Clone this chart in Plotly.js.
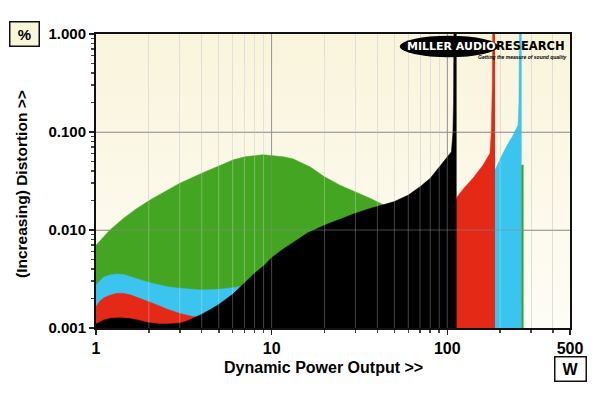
<!DOCTYPE html>
<html>
<head>
<meta charset="utf-8">
<script src="https://cdn.plot.ly/plotly-3.0.1.min.js"></script>
<style>html,body{margin:0;padding:0;background:#fff;}#chart{width:600px;height:393px;}</style>
</head>
<body>
<div id="chart"></div>
<script>
// ---- Data (power in W, distortion in %) ----
const green1ohmP = [1, 1.1, 1.2, 1.43, 1.7, 2.03, 2.5, 3, 4, 5.07, 6.05, 7.05, 8.95, 11.6, 13.2, 16.5, 20, 24.5, 30, 36.3, 43.5, 60, 80, 100, 120, 150, 190, 230, 266, 272];
const green1ohmD = [0.0070, 0.00855, 0.0100, 0.0131, 0.0165, 0.0202, 0.0250, 0.0300, 0.0379, 0.0459, 0.0520, 0.0559, 0.0587, 0.0559, 0.0532, 0.0443, 0.0349, 0.0287, 0.0246, 0.0211, 0.0180, 0.0160, 0.0160, 0.0165, 0.0175, 0.0195, 0.0260, 0.0340, 0.0460, 0.0460];

const cyan2ohmP = [1, 1.1, 1.2, 1.32, 1.45, 1.58, 1.8, 2, 2.55, 3, 4, 5, 6, 6.65, 8, 10, 15, 20, 30, 50, 80, 110, 140, 170, 186, 187.2, 189, 200, 217, 235, 253, 256, 258, 265];
const cyan2ohmD = [0.00275, 0.00330, 0.00348, 0.00355, 0.00350, 0.00334, 0.00310, 0.00292, 0.00264, 0.00254, 0.00244, 0.00248, 0.00258, 0.00265, 0.0029, 0.0032, 0.0037, 0.0042, 0.0052, 0.0070, 0.0100, 0.0140, 0.0190, 0.0260, 0.0300, 0.0420, 0.0425, 0.0530, 0.0709, 0.0900, 0.1180, 0.2000, 1.5, 1.5];

const red4ohmP = [1, 1.05, 1.11, 1.2, 1.32, 1.45, 1.58, 1.8, 2, 2.3, 2.55, 3, 3.6, 3.85, 5, 6, 8, 10, 15, 20, 30, 50, 80, 100, 112, 114, 125, 140, 160, 175, 178, 180.5, 181.5, 187];
const red4ohmD = [0.00165, 0.00188, 0.00203, 0.00216, 0.00226, 0.00225, 0.00217, 0.00200, 0.00185, 0.00168, 0.00155, 0.00141, 0.00130, 0.00130, 0.0014, 0.0015, 0.0018, 0.0022, 0.0030, 0.0040, 0.0060, 0.0090, 0.0130, 0.0170, 0.0200, 0.0219, 0.0270, 0.0337, 0.0460, 0.0607, 0.0980, 0.3000, 1.5, 1.5];

const black8ohmP = [1, 1.1, 1.21, 1.38, 1.55, 1.72, 2, 2.3, 2.55, 3, 3.3, 3.61, 4, 4.5, 5, 6, 7, 8, 9, 10, 11.5, 13.2, 16, 20, 25, 30, 36, 43.5, 50, 60, 70, 80, 90, 98, 105.6, 107.7, 108.6, 109.2, 113];
const black8ohmD = [0.00110, 0.00120, 0.00126, 0.00127, 0.00125, 0.00121, 0.00113, 0.00110, 0.00110, 0.00112, 0.00118, 0.00126, 0.00138, 0.00155, 0.00174, 0.00221, 0.00286, 0.00362, 0.00430, 0.0052, 0.0063, 0.0074, 0.0093, 0.0112, 0.0131, 0.0148, 0.0165, 0.0180, 0.0195, 0.0227, 0.0277, 0.0337, 0.0443, 0.0539, 0.0627, 0.098, 0.20, 1.5, 1.5];

// ---- Axis ticks ----
const xTickVals = [1, 10, 100, 500];
const xTickText = ['1', '10', '100', '500'];
const xMinorVals = [2, 3, 4, 5, 6, 7, 8, 9, 20, 30, 40, 50, 60, 70, 80, 90, 200, 300, 400];
const xDecadeGrid = [10, 100];
const yTickVals = [0.001, 0.01, 0.1, 1];
const yTickText = ['0.001', '0.010', '0.100', '1.000'];
const yMinorVals = [0.002,0.003,0.004,0.005,0.006,0.007,0.008,0.009,0.02,0.03,0.04,0.05,0.06,0.07,0.08,0.09,0.2,0.3,0.4,0.5,0.6,0.7,0.8,0.9];
const yGrid = [0.01, 0.1];

const FONT = 'Liberation Sans, Arial, sans-serif';
const LOGOFONT = 'DejaVu Sans, Arial Black, sans-serif';

function area(x, y, color) {
  return {
    x: x, y: y, type: 'scatter', mode: 'lines',
    fill: 'tozeroy', fillcolor: color,
    line: {color: color, width: 0.5, shape: 'linear'},
    hoverinfo: 'skip', showlegend: false
  };
}

const traces = [
  area(green1ohmP, green1ohmD, '#44A523'),
  area(cyan2ohmP, cyan2ohmD, '#3AC4EE'),
  area(red4ohmP, red4ohmD, '#E42A17'),
  area(black8ohmP, black8ohmD, '#000000')
];

// Gridlines re-drawn faintly on top of the filled areas (as in the original)
const shapes = [];
xMinorVals.forEach(v => shapes.push({type:'line', layer:'above', xref:'x', yref:'paper', x0:v, x1:v, y0:0, y1:1, line:{color:'rgba(255,255,255,0.27)', width:1}}));
xDecadeGrid.forEach(v => shapes.push({type:'line', layer:'above', xref:'x', yref:'paper', x0:v, x1:v, y0:0, y1:1, line:{color:'rgba(140,140,140,0.5)', width:1}}));
yGrid.forEach(v => shapes.push({type:'line', layer:'above', xref:'paper', yref:'y', x0:0, x1:1, y0:v, y1:v, line:{color:'rgba(140,140,140,0.5)', width:1}}));
// logo ellipse
shapes.push({type:'circle', layer:'above', xref:'paper', yref:'paper', x0:0.641, x1:0.848, y0:0.921, y1:0.994, fillcolor:'#000', line:{width:0}});

const gradSvg = "<svg xmlns='http://www.w3.org/2000/svg' width='10' height='100' preserveAspectRatio='none'><defs><linearGradient id='g' x1='0' y1='0' x2='0' y2='1'><stop offset='0' stop-color='#F9F4DB'/><stop offset='1' stop-color='#FEFDF6'/></linearGradient></defs><rect width='10' height='100' fill='url(#g)'/></svg>";

const layout = {
  width: 600, height: 393,
  margin: {l: 96, r: 30, t: 34, b: 65},
  paper_bgcolor: '#FFFFFF',
  plot_bgcolor: '#FBF8E8',
  font: {family: FONT, color: '#000'},
  showlegend: false,
  images: [{
    source: 'data:image/svg+xml;charset=utf-8,' + encodeURIComponent(gradSvg),
    xref: 'paper', yref: 'paper', x: 0, y: 1, sizex: 1, sizey: 1,
    xanchor: 'left', yanchor: 'top', sizing: 'stretch', layer: 'below'
  }],
  xaxis: {
    type: 'log', range: [0, Math.log10(500)],
    tickvals: xTickVals, ticktext: xTickText,
    ticks: 'outside', ticklen: 5, tickwidth: 1.5, tickcolor: '#222',
    minor: {tickvals: xMinorVals, ticks: 'outside', ticklen: 3, tickcolor: '#444', showgrid: true, gridcolor: '#D9D8D0', gridwidth: 1},
    showgrid: true, gridcolor: '#A8A8A8', gridwidth: 1, zeroline: false,
    showline: true, mirror: true, linecolor: '#111', linewidth: 2,
    tickfont: {family: FONT, size: 16, weight: 'bold', color: '#000'}
  },
  yaxis: {
    type: 'log', range: [-3, 0],
    tickvals: yTickVals, ticktext: yTickText,
    ticks: 'outside', ticklen: 5, tickwidth: 1.5, tickcolor: '#222',
    minor: {tickvals: yMinorVals, ticks: 'outside', ticklen: 3, tickcolor: '#444', showgrid: false},
    showgrid: true, gridcolor: '#A8A8A8', gridwidth: 1, zeroline: false,
    showline: true, mirror: true, linecolor: '#111', linewidth: 2,
    tickfont: {family: FONT, size: 15, weight: 'bold', color: '#000'}
  },
  shapes: shapes,
  annotations: [
    {text: 'Dynamic Power Output >>', xref: 'paper', yref: 'paper', x: 0.479, y: -0.133, showarrow: false,
     font: {family: FONT, size: 16, weight: 'bold'}, xanchor: 'center', yanchor: 'middle'},
    {text: '(Increasing) Distortion >>', xref: 'paper', yref: 'paper', x: -0.156, y: 0.49, showarrow: false,
     textangle: -90, font: {family: FONT, size: 15.5, weight: 'bold'}, xanchor: 'center', yanchor: 'middle'},
    {text: '%', xref: 'paper', yref: 'paper', x: -0.150, y: 1.0, showarrow: false,
     font: {family: FONT, size: 15, weight: 'bold'}, bgcolor: '#FAF6DC', bordercolor: '#111', borderwidth: 1.5,
     borderpad: 3, width: 22, height: 17, xanchor: 'center', yanchor: 'middle'},
    {text: 'W', xref: 'paper', yref: 'paper', x: 1.0, y: -0.139, showarrow: false,
     font: {family: FONT, size: 16, weight: 'bold'}, bgcolor: '#FFFFFF', bordercolor: '#111', borderwidth: 1.5,
     borderpad: 3, width: 24, height: 17, xanchor: 'center', yanchor: 'middle'},
    {text: 'MILLER AUDIO', xref: 'paper', yref: 'paper', x: 0.749, y: 0.958, showarrow: false,
     font: {family: LOGOFONT, size: 11, weight: 'bold', color: '#FFFFFF'}, xanchor: 'center', yanchor: 'middle'},
    {text: 'RESEARCH', xref: 'paper', yref: 'paper', x: 0.846, y: 0.958, showarrow: false,
     font: {family: LOGOFONT, size: 11.5, weight: 'bold', color: '#000'}, xanchor: 'left', yanchor: 'middle', xshift: -3},
    {text: '<i>Getting the measure of sound quality</i>', xref: 'paper', yref: 'paper', x: 0.998, y: 0.922, showarrow: false,
     font: {family: FONT, size: 5, weight: 'bold', color: '#000'}, xanchor: 'right', yanchor: 'middle'}
  ]
};

Plotly.newPlot('chart', traces, layout, {staticPlot: true, displayModeBar: false});
</script>
</body>
</html>
